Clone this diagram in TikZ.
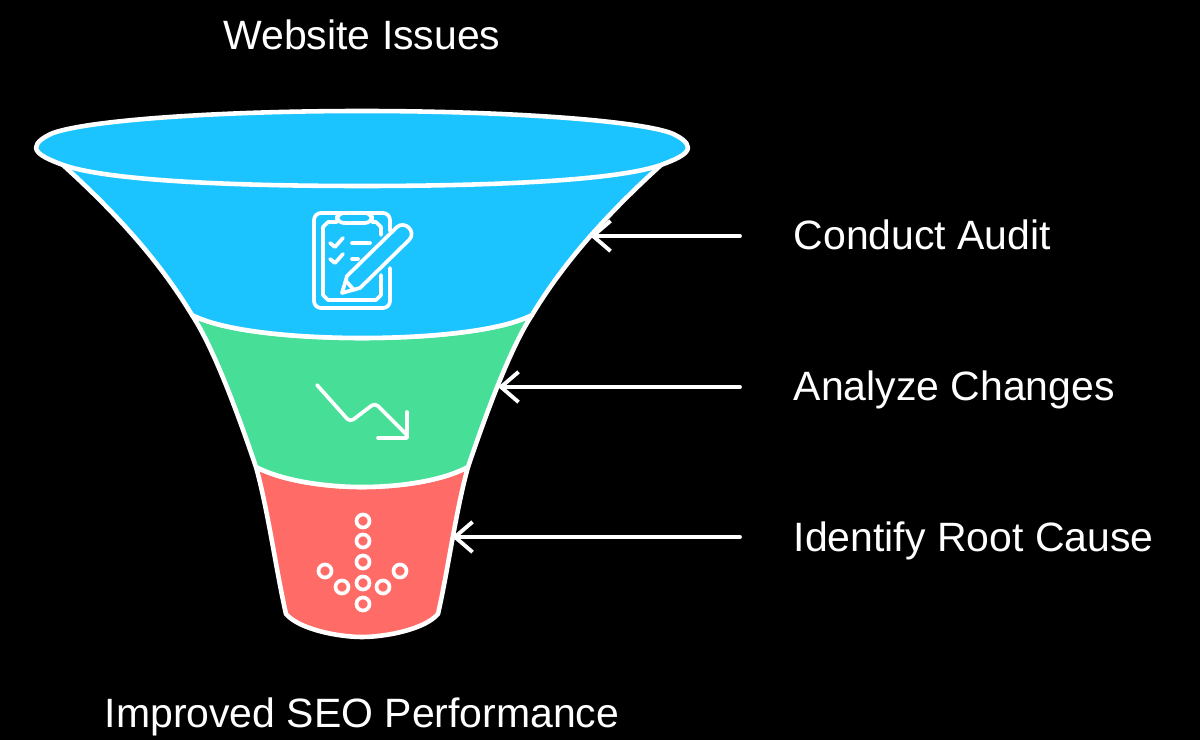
\documentclass[tikz,border=0pt]{standalone}
\usepackage{fontspec}
\setmainfont{Liberation Sans}
\usetikzlibrary{arrows.meta}
\definecolor{funnelblue}{HTML}{1CC4FF}
\definecolor{funnelgreen}{HTML}{47DF97}
\definecolor{funnelred}{HTML}{FF6B66}

\begin{document}
\begin{tikzpicture}[
  x=0.01cm, y=-0.01cm,
  >={Straight Barb[length=5pt,width=8.6pt]},
  every node/.style={text=white,font=\fontsize{11.65}{13}\selectfont,inner sep=0pt},
  band/.style={draw=white,line width=1.3pt,line join=round},
  icon/.style={draw=white,line width=1.05pt,line cap=round,line join=round},
  pointer/.style={draw=white,line width=1.1pt,line cap=round,->}
]
\useasboundingbox (0,0) rectangle (1200,740);
\fill[black] (0,0) rectangle (1200,740);

% funnel, bottom band first
\draw[band,fill=funnelred] (256,467) .. controls (268,510) and (276,570) .. (286,614)
  .. controls (300,630) and (340,637) .. (362,637)
  .. controls (384,637) and (424,630) .. (438,614)
  .. controls (448,570) and (456,510) .. (468,467)
  .. controls (440,482) and (395,487) .. (362,487)
  .. controls (330,487) and (285,482) .. (256,467) -- cycle;
\draw[band,fill=funnelgreen] (192,315) .. controls (215,350) and (240,420) .. (256,467)
  .. controls (285,482) and (330,487) .. (362,487)
  .. controls (395,487) and (440,482) .. (468,467)
  .. controls (484,420) and (509,350) .. (532,315)
  .. controls (499,332) and (424,338) .. (362,338)
  .. controls (300,338) and (225,332) .. (192,315) -- cycle;
\draw[band,fill=funnelblue] (63,165) .. controls (118,215) and (160,262) .. (192,315)
  .. controls (225,332) and (300,338) .. (362,338)
  .. controls (424,338) and (499,332) .. (532,315)
  .. controls (564,262) and (606,215) .. (661,165) -- cycle;
\draw[band,fill=funnelblue] (36,148) .. controls (36,142) and (44,137) .. (53,133)
  .. controls (90,120) and (220,111) .. (362,111)
  .. controls (504,111) and (634,120) .. (671,133)
  .. controls (680,137) and (688,142) .. (688,148)
  .. controls (687,155) and (674,160) .. (661,165)
  .. controls (624,178) and (524,186) .. (362,186)
  .. controls (200,186) and (100,178) .. (63,165)
  .. controls (50,160) and (37,155) .. (36,148) -- cycle;

% clipboard
\draw[icon,rounded corners=2pt] (390,231) -- (390,213) -- (314,213) -- (314,308) -- (390,308) -- (390,268);
\draw[icon] (372,222) -- (376,222) -- (381,227) -- (381,235);
\draw[icon] (337,222) -- (328,222) -- (323,227) -- (323,295) -- (328,300) -- (376,300) -- (381,295) -- (381,275);
\draw[icon,rounded corners=2pt] (337,213) rectangle (372,223);
\draw[icon] (330,243) -- (335,247) -- (343,238);
\draw[icon] (330,259) -- (335,263) -- (343,254);
\draw[icon] (352,243) -- (370,243);
\draw[icon] (352,259) -- (358,259);
\draw[icon] (342,293) -- (347,276) -- (397,227) .. controls (405,220) and (417,232) .. (409,240) -- (360,288) -- cycle;
\draw[icon] (346,281) -- (354,290);

% trend
\draw[icon,rounded corners=1.2pt] (317,385) -- (350,422) -- (375,403) -- (407,435);
\draw[icon] (407,412) -- (407,438) -- (378,438);

% dots
\foreach \dx/\dy in {363/521,363/541,363/562,363/583,363/604,325/571,342/587,383/587,400/571}
  \draw[icon] (\dx,\dy) circle [radius=6.5];

\node[anchor=base] (top) at (362,50) {Website Issues};
\node[anchor=base] (bottom) at (362,727) {Improved SEO Performance};
\node[anchor=base west] (audit) at (793,250) {Conduct Audit};
\node[anchor=base west] (analyze) at (793,401) {Analyze Changes};
\node[anchor=base west] (cause) at (793,551) {Identify Root Cause};

\foreach \id/\tipx/\ty in {a/590/236,b/498/387,c/452/537}{
  \coordinate (tail\id) at (740,\ty);
  \coordinate (tip\id) at (\tipx,\ty);
  \draw[pointer] (tail\id) -- (tip\id);
}
\end{tikzpicture}
\end{document}
